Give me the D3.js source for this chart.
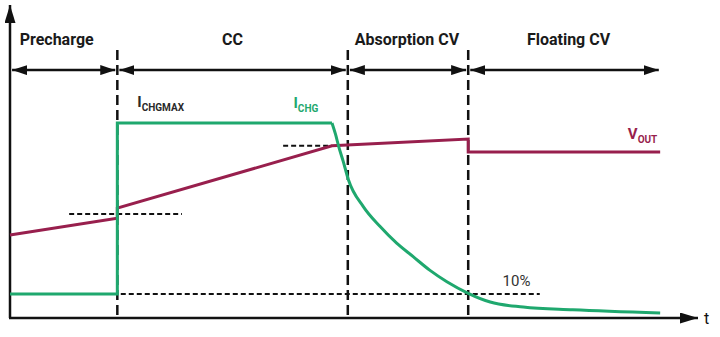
<!DOCTYPE html>
<html><head><meta charset="utf-8">
<script src="https://cdn.jsdelivr.net/npm/d3@7"></script>
<style>
html,body{margin:0;padding:0;background:#fff;}
svg{display:block;font-family:Roboto,"Liberation Sans",sans-serif;}
</style></head>
<body><svg id="c" width="720" height="337"></svg>
<script>
// ---- data (time and level in arbitrary units, 0..100) ----
const phaseNames = ["Precharge", "CC", "Absorption CV", "Floating CV"];
const phaseBounds = [0, 15.6, 49.1, 66.6, 94.6];   // phase boundaries on t
const ichgT = [0, 15.6, 15.6, 46.8, 47.3, 47.8, 48.4, 49.2, 51.35, 53.8, 56.2, 58.6, 61.0, 63.5, 66.6, 69.8, 74.6, 81.8, 94.5];
const ichgV = [7.7, 7.7, 62.3, 62.3, 58.8, 54.6, 50.3, 44.1, 35.6, 29.2, 23.9, 19.6, 15.3, 11.6, 7.9, 5.1, 3.5, 2.6, 1.6];
const voutT = [0, 15.6, 15.6, 46.8, 66.6, 66.6, 94.5];
const voutV = [26.5, 31.9, 35.1, 55.0, 57.2, 53.0, 53.0];
const refLevels = [33.2, 55.0, 7.7];               // dashed reference levels
const refFrom = [8.6, 39.7, 16.1];
const refTo = [25.0, 46.8, 77.0];

const svg = d3.select("#c");
const x = d3.scaleLinear().domain([0, 100]).range([10, 698]);
const y = d3.scaleLinear().domain([0, 100]).range([318, 5]);
const GREEN = "#1fa86e", MAROON = "#981f4d", INK = "#111";
const labelShift = [-7, 0, -1, 4];                 // layout nudges for phase titles (px)

const defs = svg.append("defs");
function marker(id, len, half) {
  defs.append("marker").attr("id", id).attr("markerUnits", "userSpaceOnUse")
    .attr("viewBox", `0 ${-half} ${len} ${2*half}`).attr("refX", len).attr("refY", 0)
    .attr("markerWidth", len).attr("markerHeight", 2*half).attr("orient", "auto-start-reverse")
    .append("path").attr("d", `M0,${-half}L${len},0L0,${half}Z`).attr("fill", INK);
}
marker("ah", 15, 5);
marker("ax", 18, 5.5);

// axes
svg.append("line").attr("x1", x(0)).attr("y1", y(0)).attr("x2", x(0)).attr("y2", y(100))
  .attr("stroke", INK).attr("stroke-width", 2.5).attr("marker-end", "url(#ax)");
svg.append("line").attr("x1", x(0) - 1).attr("y1", y(0)).attr("x2", x(100)).attr("y2", y(0))
  .attr("stroke", INK).attr("stroke-width", 2.5).attr("marker-end", "url(#ax)");
svg.append("text").attr("x", x(100) + 6).attr("y", y(0) + 6).attr("font-size", 16)
  .attr("fill", INK).text("t");

// phase boundaries (dashed verticals)
svg.selectAll("line.vb").data(phaseBounds.slice(1, 4)).join("line").attr("class", "vb")
  .attr("x1", d => x(d)).attr("x2", d => x(d)).attr("y1", y(85.6)).attr("y2", y(0))
  .attr("stroke", INK).attr("stroke-width", 2.5).attr("stroke-dasharray", "10,5");

// phase arrows and labels
const arrowY = y(79.2);
phaseNames.forEach((name, i) => {
  const a = phaseBounds[i] + 0.3, b = phaseBounds[i + 1] - 0.3;
  svg.append("line").attr("x1", x(a)).attr("x2", x(b)).attr("y1", arrowY).attr("y2", arrowY)
    .attr("stroke", INK).attr("stroke-width", 2.5)
    .attr("marker-start", "url(#ah)").attr("marker-end", "url(#ah)");
  svg.append("text").attr("x", x((phaseBounds[i] + phaseBounds[i + 1]) / 2) + labelShift[i])
    .attr("y", y(87.2)).attr("text-anchor", "middle").attr("font-size", 16)
    .attr("font-weight", "bold").attr("fill", "#1a1a1a").text(name);
});

// dashed reference levels
svg.selectAll("line.ref").data(refLevels).join("line").attr("class", "ref")
  .attr("x1", (d, i) => x(refFrom[i])).attr("x2", (d, i) => x(refTo[i]))
  .attr("y1", d => y(d)).attr("y2", d => y(d))
  .attr("stroke", INK).attr("stroke-width", 2).attr("stroke-dasharray", "5,3");

// V_OUT
const vout = voutT.map((t, i) => [t, voutV[i]]);
svg.append("path").datum(vout)
  .attr("d", d3.line().x(d => x(d[0])).y(d => y(d[1])))
  .attr("fill", "none").attr("stroke", MAROON).attr("stroke-width", 3);

// I_CHG
const ichg = ichgT.map((t, i) => [t, ichgV[i]]);
svg.append("path").datum(ichg.slice(0, 4))
  .attr("d", d3.line().x(d => x(d[0])).y(d => y(d[1])))
  .attr("fill", "none").attr("stroke", GREEN).attr("stroke-width", 3);
svg.append("path").datum(ichg.slice(3))
  .attr("d", d3.line().curve(d3.curveMonotoneX).x(d => x(d[0])).y(d => y(d[1])))
  .attr("fill", "none").attr("stroke", GREEN).attr("stroke-width", 3);

// labels with subscripts
function subLabel(px, py, main, sub, color) {
  const t = svg.append("text").attr("x", px).attr("y", py).attr("fill", color)
    .attr("font-weight", "bold");
  t.append("tspan").attr("font-size", 15).text(main);
  t.append("tspan").attr("font-size", 10).attr("dy", 4).text(sub);
}
subLabel(x(18.5), y(67.4), "I", "CHGMAX", "#2a2a2a");
subLabel(x(41.2), y(67.0), "I", "CHG", GREEN);
subLabel(x(89.8), y(57.2), "V", "OUT", MAROON);
svg.append("text").attr("x", x(71.6)).attr("y", y(10.2)).attr("font-size", 15)
  .attr("fill", "#333").text("10%");
</script></body></html>
